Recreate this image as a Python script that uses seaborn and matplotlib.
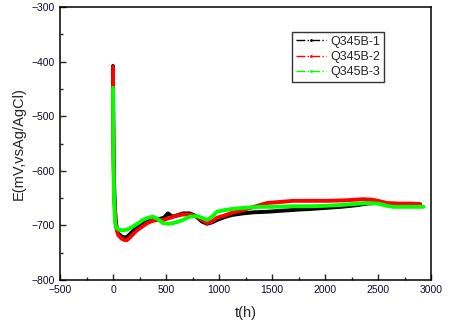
import numpy as np
import pandas as pd
import seaborn as sns
import matplotlib
matplotlib.use('Agg')
import matplotlib.pyplot as plt
from matplotlib.lines import Line2D
from matplotlib.ticker import MultipleLocator

# Q345B-1
t1 = [0, 2, 5, 8, 12, 18, 25, 35, 50, 80, 110, 132, 160, 200, 250, 300, 350, 400,
      443, 480, 519, 560, 600, 660, 726, 780, 840, 887, 940, 981, 1050, 1120, 1226,
      1330, 1453, 1600, 1750, 1858, 2000, 2150, 2300, 2400, 2490, 2600, 2700, 2830]
e1 = [-408, -500, -560, -600, -640, -665, -690, -705, -715, -720, -722, -721, -716,
      -708, -700, -694, -690, -688, -688, -686, -678, -684, -682, -678, -678, -683,
      -693, -697, -694, -690, -685, -681, -678, -676, -675, -673, -671, -670, -668,
      -666, -663, -660, -659, -661, -663, -663]

# Q345B-2
t2 = [0, 2, 5, 8, 12, 18, 25, 35, 50, 80, 110, 132, 160, 200, 226, 270, 321, 370,
      415, 472, 540, 604, 660, 726, 790, 840, 887, 940, 981, 1050, 1120, 1226, 1330,
      1453, 1580, 1700, 1850, 2019, 2200, 2358, 2450, 2520, 2585, 2700, 2800, 2900]
e2 = [-410, -495, -555, -600, -645, -670, -695, -708, -718, -724, -727, -727, -722,
      -714, -709, -703, -696, -692, -690, -690, -686, -682, -680, -680, -684, -690,
      -696, -692, -686, -682, -677, -672, -666, -659, -657, -655, -655, -655, -654,
      -652, -653, -656, -659, -660, -660, -661]

# Q345B-3
t3 = [0, 2, 4, 6, 9, 12, 16, 20, 28, 40, 60, 90, 132, 180, 230, 283, 330, 377, 420,
      472, 540, 604, 660, 726, 792, 840, 887, 940, 981, 1050, 1120, 1226, 1387, 1500,
      1700, 1850, 2019, 2200, 2396, 2500, 2580, 2642, 2750, 2850, 2930]
e3 = [-448, -520, -570, -610, -640, -660, -680, -695, -703, -706, -708, -709, -708,
      -703, -697, -690, -686, -684, -688, -696, -697, -694, -690, -684, -683, -686,
      -690, -683, -675, -672, -670, -668, -666, -666, -665, -665, -664, -662, -659,
      -660, -664, -666, -666, -666, -666]

names = ['Q345B-1', 'Q345B-2', 'Q345B-3']
colors = ['black', 'red', '#00ff00']

df = pd.concat([
    pd.DataFrame({'t': t1, 'E': e1, 'sample': names[0]}),
    pd.DataFrame({'t': t2, 'E': e2, 'sample': names[1]}),
    pd.DataFrame({'t': t3, 'E': e3, 'sample': names[2]}),
])

sns.set_style('ticks')
plt.rcParams['font.family'] = ['Liberation Sans', 'DejaVu Sans']

fig = plt.figure(figsize=(4.49, 3.2), dpi=100)
ax = fig.add_axes([60 / 449, 40 / 320, 371 / 449, 273 / 320])

sns.lineplot(data=df, x='t', y='E', hue='sample', palette=colors, sort=False,
             estimator=None, linewidth=2.8, legend=False, ax=ax)

ax.set_xlim(-500, 3000)
ax.set_ylim(-800, -300)
ax.xaxis.set_major_locator(MultipleLocator(500))
ax.xaxis.set_minor_locator(MultipleLocator(250))
ax.yaxis.set_major_locator(MultipleLocator(100))
ax.yaxis.set_minor_locator(MultipleLocator(50))
ax.tick_params(which='both', direction='in', top=False, right=False,
               labelsize=7.5, labelcolor='#0d0d2b', width=1)
ax.tick_params(which='major', length=4.5)
ax.tick_params(which='minor', length=2.5)
for s in ax.spines.values():
    s.set_linewidth(1.1)
    s.set_color('black')

ax.set_xlabel('t(h)', fontsize=10.5, labelpad=8)
ax.set_ylabel('E(mV,vsAg/AgCl)', fontsize=10.5, labelpad=4)

handles = [Line2D([], [], color=c, linestyle='-.', linewidth=1, marker='.',
                  markersize=2) for c in colors]
leg = ax.legend(handles, names, loc='upper left', bbox_to_anchor=(0.625, 0.908),
                borderaxespad=0, fontsize=9, frameon=True, fancybox=False,
                handlelength=2.4, handletextpad=0.4, borderpad=0.3,
                labelspacing=0.25)
leg.get_frame().set_edgecolor('black')
leg.get_frame().set_linewidth(1)

fig.savefig('out.png', dpi=100)
